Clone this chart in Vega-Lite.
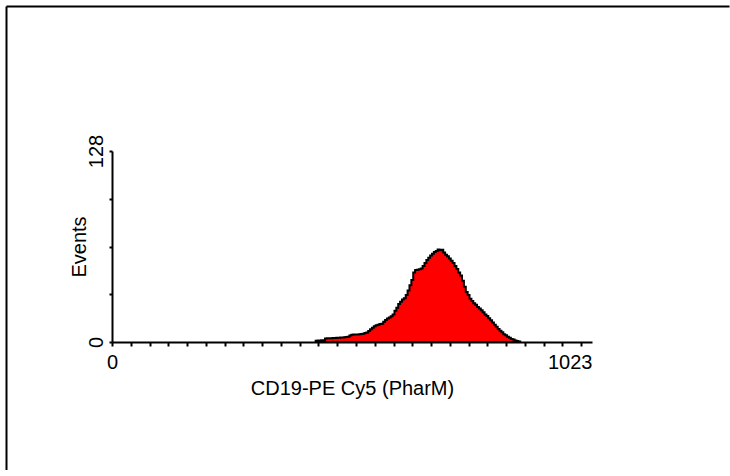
{
  "$schema": "https://vega.github.io/schema/vega-lite/v6.json",
  "autosize": {"type": "none"},
  "padding": {"left": 6, "top": 6, "right": 1, "bottom": 0},
  "width": 723,
  "height": 464,
  "background": "white",
  "view": {"stroke": "transparent"},
  "config": {
    "view": {"stroke": "transparent"},
    "font": "Liberation Sans",
    "axis": {
      "labelFont": "Liberation Sans",
      "titleFont": "Liberation Sans",
      "labelColor": "black",
      "titleColor": "black",
      "titleFontWeight": "normal",
      "labelFontSize": 20,
      "titleFontSize": 20,
      "grid": false
    }
  },
  "data": {
    "values": [
      {"ch": 432, "count": 0},
      {"ch": 436, "count": 0.8},
      {"ch": 440, "count": 1},
      {"ch": 444, "count": 1},
      {"ch": 448, "count": 1.2},
      {"ch": 452, "count": 1.2},
      {"ch": 456, "count": 2.3},
      {"ch": 460, "count": 2.5},
      {"ch": 464, "count": 2.5},
      {"ch": 468, "count": 2.5},
      {"ch": 472, "count": 2.6},
      {"ch": 476, "count": 2.6},
      {"ch": 480, "count": 2.8},
      {"ch": 484, "count": 2.8},
      {"ch": 488, "count": 3},
      {"ch": 492, "count": 3},
      {"ch": 496, "count": 3.2},
      {"ch": 500, "count": 3.4},
      {"ch": 504, "count": 3.6},
      {"ch": 508, "count": 4.4},
      {"ch": 512, "count": 4.8},
      {"ch": 516, "count": 5},
      {"ch": 520, "count": 5},
      {"ch": 524, "count": 5.1},
      {"ch": 528, "count": 5.2},
      {"ch": 532, "count": 5.4},
      {"ch": 536, "count": 5.6},
      {"ch": 540, "count": 6},
      {"ch": 544, "count": 6.4},
      {"ch": 548, "count": 7.4},
      {"ch": 552, "count": 8.5},
      {"ch": 556, "count": 9.5},
      {"ch": 560, "count": 10.5},
      {"ch": 564, "count": 11.3},
      {"ch": 568, "count": 11.6},
      {"ch": 572, "count": 12},
      {"ch": 576, "count": 12.3},
      {"ch": 580, "count": 13.5},
      {"ch": 584, "count": 14.8},
      {"ch": 588, "count": 15.8},
      {"ch": 592, "count": 16.5},
      {"ch": 596, "count": 17.3},
      {"ch": 600, "count": 18.5},
      {"ch": 604, "count": 21},
      {"ch": 608, "count": 23},
      {"ch": 612, "count": 25.5},
      {"ch": 616, "count": 27},
      {"ch": 620, "count": 28.5},
      {"ch": 624, "count": 29.3},
      {"ch": 628, "count": 31.5},
      {"ch": 632, "count": 34.5},
      {"ch": 636, "count": 38},
      {"ch": 640, "count": 41.5},
      {"ch": 644, "count": 46.5},
      {"ch": 648, "count": 48.3},
      {"ch": 652, "count": 48.5},
      {"ch": 656, "count": 48.8},
      {"ch": 660, "count": 49.2},
      {"ch": 664, "count": 51},
      {"ch": 668, "count": 53},
      {"ch": 672, "count": 55},
      {"ch": 676, "count": 56.5},
      {"ch": 680, "count": 58},
      {"ch": 684, "count": 59.2},
      {"ch": 688, "count": 60.3},
      {"ch": 692, "count": 61},
      {"ch": 696, "count": 62},
      {"ch": 700, "count": 61.5},
      {"ch": 704, "count": 61.8},
      {"ch": 708, "count": 60},
      {"ch": 712, "count": 58.5},
      {"ch": 716, "count": 57.5},
      {"ch": 720, "count": 56},
      {"ch": 724, "count": 54.5},
      {"ch": 728, "count": 53},
      {"ch": 732, "count": 51},
      {"ch": 736, "count": 49},
      {"ch": 740, "count": 46.5},
      {"ch": 744, "count": 44.5},
      {"ch": 748, "count": 41},
      {"ch": 752, "count": 37},
      {"ch": 756, "count": 33.5},
      {"ch": 760, "count": 31.5},
      {"ch": 764, "count": 29},
      {"ch": 768, "count": 27.5},
      {"ch": 772, "count": 26},
      {"ch": 776, "count": 25},
      {"ch": 780, "count": 23.5},
      {"ch": 784, "count": 22.5},
      {"ch": 788, "count": 21.3},
      {"ch": 792, "count": 20},
      {"ch": 796, "count": 18.5},
      {"ch": 800, "count": 17.5},
      {"ch": 804, "count": 16},
      {"ch": 808, "count": 14.5},
      {"ch": 812, "count": 13},
      {"ch": 816, "count": 11.5},
      {"ch": 820, "count": 10.2},
      {"ch": 824, "count": 8.7},
      {"ch": 828, "count": 7.5},
      {"ch": 832, "count": 6.5},
      {"ch": 836, "count": 5.2},
      {"ch": 840, "count": 4.5},
      {"ch": 844, "count": 3.5},
      {"ch": 848, "count": 2.8},
      {"ch": 852, "count": 2},
      {"ch": 856, "count": 1.6},
      {"ch": 860, "count": 1},
      {"ch": 864, "count": 0.7},
      {"ch": 868, "count": 0.4},
      {"ch": 872, "count": 0}
    ]
  },
  "layer": [
    {
      "mark": {"type": "area", "interpolate": "step", "color": "#ff0000", "stroke": "black", "strokeWidth": 2},
      "encoding": {
        "x": {
          "field": "ch",
          "type": "quantitative",
          "scale": {"domain": [0, 1023], "range": [106, 586], "nice": false, "zero": false},
          "axis": {
            "orient": "bottom",
            "offset": -128,
            "format": "d",
            "values": [0, 40, 80, 120, 160, 200, 240, 280, 320, 360, 400, 440, 480, 520, 560, 600, 640, 680, 720, 760, 800, 840, 880, 920, 960, 1000, 1023],
            "labelExpr": "datum.value == 0 || datum.value == 1023 ? datum.label : ''",
            "labelFlush": false,
            "labelOverlap": false,
            "labelAlign": {"condition": {"test": "datum.value == 1023", "value": "right"}, "value": "center"},
            "tickOpacity": {"condition": {"test": "datum.value == 1023", "value": 0}, "value": 1},
            "labelPadding": 6,
            "tickSize": 4,
            "tickWidth": 2,
            "tickColor": "black",
            "domainColor": "black",
            "domainWidth": 2,
            "title": "CD19-PE Cy5 (PharM)",
            "titlePadding": 6
          }
        },
        "y": {
          "field": "count",
          "type": "quantitative",
          "scale": {"domain": [0, 128], "range": [336, 145], "nice": false},
          "axis": {
            "orient": "left",
            "offset": -106,
            "format": "d",
            "values": [0, 32, 64, 96, 128],
            "labelExpr": "datum.value == 0 || datum.value == 128 ? datum.label : ''",
            "labelAngle": -90,
            "labelAlign": "center",
            "labelBaseline": "bottom",
            "labelOverlap": false,
            "labelFlush": false,
            "labelPadding": 3,
            "tickSize": 3,
            "tickWidth": 2,
            "tickColor": "black",
            "domainColor": "black",
            "domainWidth": 2,
            "title": "Events",
            "titlePadding": -3
          }
        }
      }
    },
    {
      "mark": {"type": "point", "opacity": 0, "size": 0},
      "encoding": {
        "x": {
          "field": "ch",
          "type": "quantitative",
          "scale": {"domain": [0, 1023], "nice": false},
          "axis": {"orient": "top", "domain": true, "domainColor": "black", "domainWidth": 2, "ticks": false, "labels": false, "title": null, "grid": false, "offset": 0}
        },
        "y": {
          "field": "count",
          "type": "quantitative",
          "scale": {"domain": [0, 128], "nice": false},
          "axis": {"orient": "left", "domain": true, "domainColor": "black", "domainWidth": 2, "ticks": false, "labels": false, "title": null, "grid": false, "offset": 0}
        }
      }
    }
  ],
  "resolve": {
    "scale": {"x": "independent", "y": "independent"},
    "axis": {"x": "independent", "y": "independent"}
  }
}
